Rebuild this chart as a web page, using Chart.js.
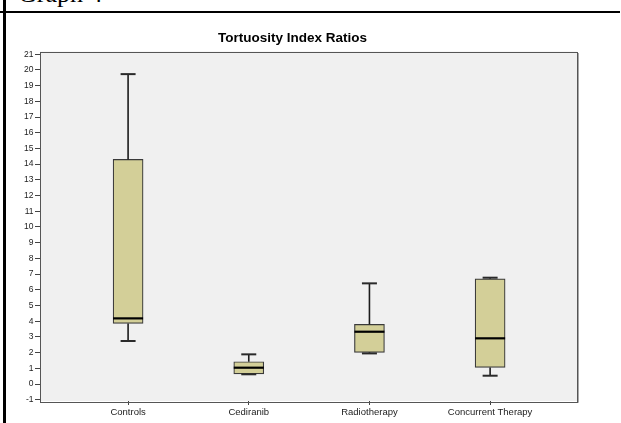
<!DOCTYPE html>
<html>
<head>
<meta charset="utf-8">
<script src="https://cdn.jsdelivr.net/npm/chart.js@4.4.1/dist/chart.umd.min.js"></script>
<style>
  html, body { margin: 0; padding: 0; background: #fff; width: 621px; height: 423px; overflow: hidden; position: relative; }
  #caption { position: absolute; left: 18px; top: -19px; font: 26px/26px "Liberation Serif", "Times New Roman", serif; color: #000; white-space: nowrap; }
  #hline { position: absolute; left: 0; top: 11px; width: 620px; height: 2px; background: #000; }
  #vline { position: absolute; left: 3px; top: 0; width: 3px; height: 423px; background: #000; }
  #chart { position: absolute; left: 8px; top: 0; }
</style>
</head>
<body>
<div id="caption">Graph 4</div>
<div id="hline"></div>
<div id="vline"></div>
<canvas id="chart" width="586" height="423"></canvas>
<script>
// Groups and five-number summaries of the tortuosity index ratio
const categories  = ['Controls', 'Cediranib', 'Radiotherapy', 'Concurrent Therapy'];
const whiskerLow  = [2.74, 0.62, 1.95, 0.53];
const quartile1   = [3.86, 0.64, 2.02, 1.06];
const medians     = [4.18, 1.04, 3.33, 2.91];
const quartile3   = [14.30, 1.42, 3.80, 6.70];
const whiskerHigh = [19.73, 1.89, 6.41, 6.77];
const yTicks = [-1, 0, 1, 2, 3, 4, 5, 6, 7, 8, 9, 10, 11, 12, 13, 14, 15, 16, 17, 18, 19, 20, 21];

const tickFont = { family: '"Liberation Sans", Arial, sans-serif', size: 8.5 };

// Grey plot panel behind the boxes
const panelPlugin = {
  id: 'panel',
  beforeDraw(chart) {
    const { ctx, chartArea: a } = chart;
    ctx.save();
    ctx.fillStyle = '#f0f0f0';
    ctx.fillRect(a.left, a.top, a.right - a.left, a.bottom - a.top);
    ctx.restore();
  },
  afterDraw(chart) {
    const { ctx, chartArea: a } = chart;
    ctx.save();
    // soft shadow on the right and bottom edges
    ctx.strokeStyle = '#a8a8a8';
    ctx.lineWidth = 1;
    ctx.beginPath();
    ctx.moveTo(Math.round(a.right) + 1.5, Math.round(a.top) + 1);
    ctx.lineTo(Math.round(a.right) + 1.5, Math.round(a.bottom) + 1.5);
    ctx.lineTo(Math.round(a.left) + 1, Math.round(a.bottom) + 1.5);
    ctx.stroke();
    ctx.strokeStyle = '#555';
    ctx.strokeRect(Math.round(a.left) + 0.5, Math.round(a.top) + 0.5,
                   Math.round(a.right - a.left), Math.round(a.bottom - a.top));
    ctx.restore();
  }
};

// Whiskers, caps and median lines drawn on top of the quartile bars
const whiskerPlugin = {
  id: 'whiskers',
  afterDatasetsDraw(chart) {
    const { ctx } = chart;
    const xs = chart.scales.x, ys = chart.scales.y;
    const bars = chart.getDatasetMeta(0).data;
    const seg = (x1, y1, x2, y2) => { ctx.beginPath(); ctx.moveTo(x1, y1); ctx.lineTo(x2, y2); ctx.stroke(); };
    ctx.save();
    ctx.lineCap = 'butt';
    categories.forEach((c, i) => {
      const cx = xs.getPixelForValue(i);
      const yHi = ys.getPixelForValue(whiskerHigh[i]);
      const yLo = ys.getPixelForValue(whiskerLow[i]);
      const yQ1 = ys.getPixelForValue(quartile1[i]);
      const yQ3 = ys.getPixelForValue(quartile3[i]);
      const yMd = ys.getPixelForValue(medians[i]);
      const half = bars[i].width / 2;
      ctx.strokeStyle = '#1c1c1c';
      ctx.lineWidth = 1.6;
      seg(cx, yQ3, cx, yHi);
      seg(cx, yQ1, cx, yLo);
      ctx.strokeStyle = '#2a2a2a';
      ctx.lineWidth = 2;
      seg(cx - 7.5, yHi, cx + 7.5, yHi);
      seg(cx - 7.5, yLo, cx + 7.5, yLo);
      ctx.strokeStyle = '#000';
      ctx.lineWidth = 2.2;
      seg(cx - half, yMd, cx + half, yMd);
    });
    ctx.restore();
  }
};

new Chart(document.getElementById('chart'), {
  type: 'bar',
  data: {
    datasets: [{
      data: categories.map((c, i) => ({ x: i, y: [quartile1[i], quartile3[i]] })),
      backgroundColor: '#d3cf98',
      borderColor: '#3a3a3a',
      borderWidth: 1.2,
      borderSkipped: false,
      barThickness: 30
    }]
  },
  options: {
    responsive: false,
    animation: false,
    events: [],
    layout: { padding: { left: 0, right: 17, top: 0, bottom: 0 } },
    plugins: {
      legend: { display: false },
      tooltip: { enabled: false },
      title: {
        display: true,
        text: 'Tortuosity Index Ratios',
        color: '#000',
        font: { family: '"Liberation Sans", Arial, sans-serif', size: 13.5, weight: 'bold', lineHeight: 1.2 },
        padding: { top: 30.6, bottom: 4.7 }
      }
    },
    scales: {
      x: {
        type: 'linear',
        min: -0.73,
        max: 3.72,
        offset: false,
        border: { display: false },
        grid: { offset: false, drawOnChartArea: false, drawTicks: true, tickLength: 4, color: '#444' },
        ticks: {
          color: '#222',
          font: { ...tickFont, size: 9.5 },
          padding: 2,
          maxRotation: 0,
          autoSkip: false,
          callback: v => categories[v]
        },
        afterBuildTicks: s => { s.ticks = categories.map((c, i) => ({ value: i })); },
        afterFit: s => { s.height = 22; }
      },
      y: {
        type: 'linear',
        min: -1.08,
        max: 21.17,
        border: { display: false },
        grid: { drawOnChartArea: false, drawTicks: true, tickLength: 5, color: '#444' },
        ticks: { color: '#222', font: tickFont, padding: 1.5, autoSkip: false },
        afterBuildTicks: s => { s.ticks = yTicks.map(v => ({ value: v })); },
        afterFit: s => { s.width = 32; }
      }
    }
  },
  plugins: [panelPlugin, whiskerPlugin]
});
</script>
</body>
</html>
